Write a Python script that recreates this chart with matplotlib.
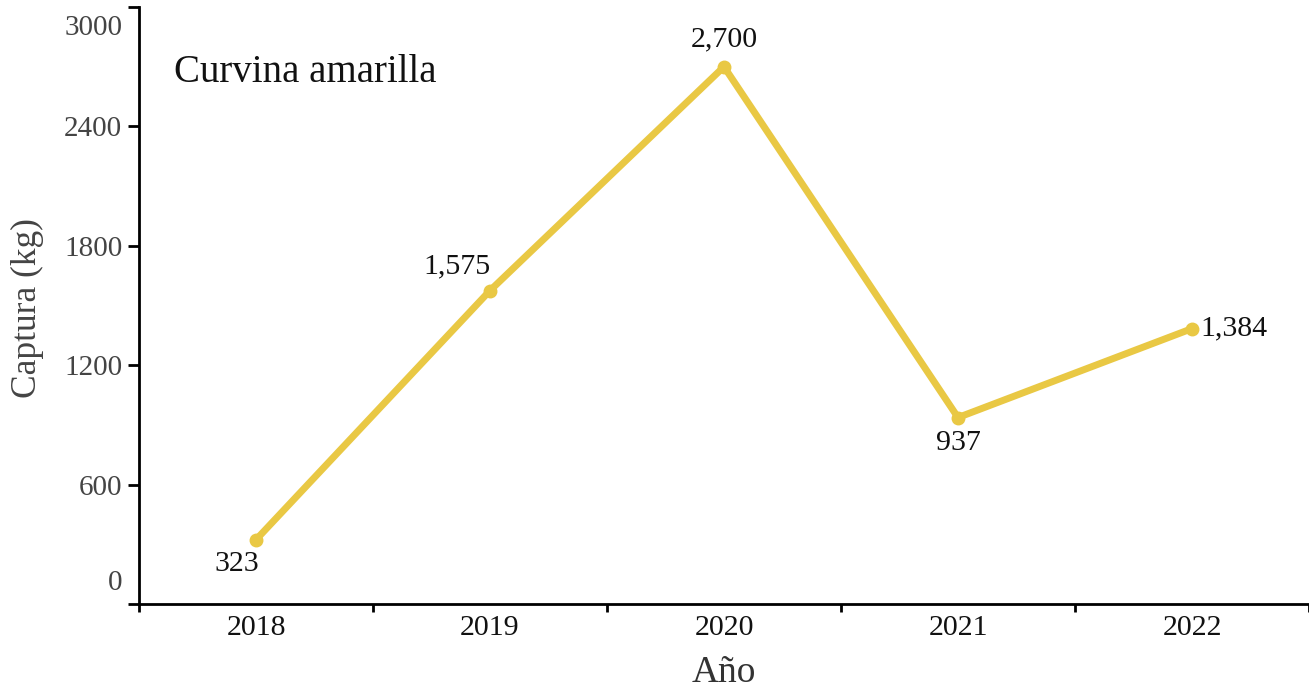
import matplotlib
matplotlib.use("Agg")
import matplotlib.pyplot as plt
import matplotlib.transforms as mtransforms

years = ["2018", "2019", "2020", "2021", "2022"]
captura = [323, 1575, 2700, 937, 1384]
labels = ["323", "1,575", "2,700", "937", "1,384"]
yticks = [0, 600, 1200, 1800, 2400, 3000]
title = "Curvina amarilla"

plt.rcParams['font.family'] = ['Liberation Serif', 'DejaVu Serif']

fig = plt.figure(figsize=(13.09, 6.9), dpi=100)
ax = fig.add_axes([139/1309, 86/690, 1 - 139/1309, (604 - 7)/690])

xs = list(range(len(years)))
ax.plot(xs, captura, color="#E9C844", lw=5, marker="o", ms=9,
        solid_joinstyle="miter", zorder=3, clip_on=False)

ax.set_xlim(-0.5, len(years) - 0.5)
ax.set_ylim(0, 3000)

for s in ["top", "right"]:
    ax.spines[s].set_visible(False)
for s in ["left", "bottom"]:
    ax.spines[s].set_linewidth(2)
    ax.spines[s].set_color("black")

# x axis: ticks at category boundaries, labels at centres
ax.set_xticks([i - 0.5 for i in range(len(years) + 1)])
ax.set_xticklabels([])
ax.tick_params(axis="x", length=6, width=2, direction="out")
for i, y in enumerate(years):
    ax.text(i, -0.04, y, transform=ax.get_xaxis_transform(), ha="center", va="center",
            fontsize=21.5, color="#111111")

ax.set_yticks(yticks)
ax.set_yticklabels([str(v) for v in yticks], fontsize=21, color="#444444")
ax.tick_params(axis="y", length=8, width=2, direction="out", pad=4)
ytl = ax.get_yticklabels()
ytl[0].set_va("bottom")
ytl[0].set_transform(ytl[0].get_transform() + mtransforms.ScaledTranslation(0, 8/100, fig.dpi_scale_trans))
ytl[-1].set_va("top")
ytl[-1].set_transform(ytl[-1].get_transform() + mtransforms.ScaledTranslation(0, -8/100, fig.dpi_scale_trans))

ax.set_xlabel("Año", fontsize=27, color="#333333")
ax.xaxis.set_label_coords(0.5, -0.115)
ax.xaxis.label.set_va("center")
ax.set_ylabel("Captura (kg)", fontsize=25.5, color="#444444")
ax.yaxis.set_label_coords(-0.0957, 0.495)
ax.yaxis.label.set_va("center")

offsets = [(-19, -24, "center", "center"), (-33, 24, "center", "center"),
           (0, 27, "center", "center"), (0, -25, "center", "center"),
           (8, 0, "left", "center")]
for x, v, lab, (dx, dy, ha, va) in zip(xs, captura, labels, offsets):
    ax.annotate(lab, (x, v), xytext=(dx * 0.72, dy * 0.72), textcoords="offset points",
                ha=ha, va=va, fontsize=21.5, color="#111111")

ax.text(0.03, 0.89, title, transform=ax.transAxes, fontsize=28, color="#111111",
        ha="left", va="center")

fig.savefig("out.png", dpi=100)
